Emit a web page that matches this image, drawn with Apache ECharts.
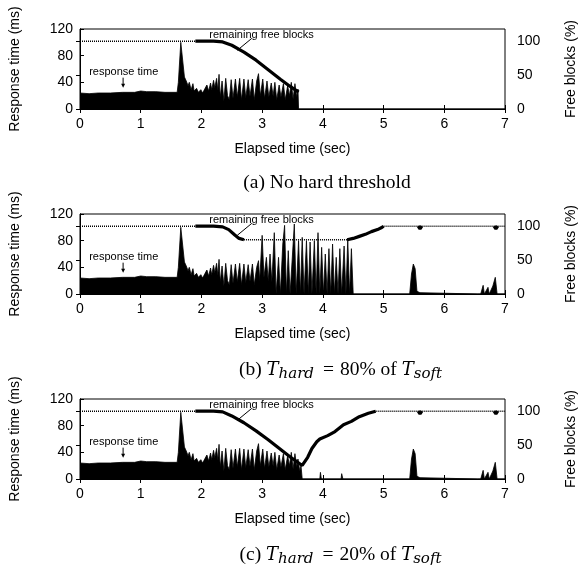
<!DOCTYPE html>
<html>
<head>
<meta charset="utf-8">
<script src="https://cdn.jsdelivr.net/npm/echarts@6/dist/echarts.min.js"></script>
<style>
html, body { margin: 0; padding: 0; background: #fff; }
#myChart { width: 586px; height: 565px; }
</style>
</head>
<body>
<div id="myChart"></div>
<script>
// 响应时间 (ms)，三个子图在 2.9 秒前相同
const rtBase = [
    [0, 24], [0.15, 23], [0.3, 24], [0.5, 24], [0.7, 25], [0.9, 25], [1.0, 27], [1.1, 26], [1.25, 26], [1.4, 25], [1.6, 25],
    [1.62, 40], [1.66, 100], [1.69, 100], [1.72, 48], [1.75, 42], [1.78, 35], [1.8, 40], [1.83, 29], [1.86, 38], [1.88, 27],
    [1.92, 31], [1.95, 25], [1.99, 29], [2.02, 24], [2.06, 31], [2.09, 36], [2.12, 27], [2.15, 39], [2.17, 29], [2.2, 43],
    [2.22, 32], [2.25, 46], [2.27, 28], [2.29, 52], [2.31, 18], [2.34, 42], [2.37, 12], [2.4, 46], [2.43, 20], [2.46, 14],
    [2.49, 44], [2.52, 16], [2.56, 45], [2.59, 18], [2.63, 46], [2.66, 14], [2.7, 45], [2.73, 17], [2.77, 44], [2.8, 19],
    [2.84, 45], [2.87, 14]
];
const rtTailA = [
    [2.91, 42], [2.94, 53], [2.97, 20], [3.01, 45], [3.04, 16], [3.08, 42], [3.11, 18], [3.15, 39], [3.18, 20], [3.21, 40],
    [3.24, 14], [3.28, 36], [3.31, 18], [3.35, 38], [3.38, 14], [3.42, 35], [3.45, 20], [3.48, 40], [3.51, 15], [3.54, 38],
    [3.57, 18], [3.59, 30], [3.6, 0], [7, 0]
];
const rtTailB = [
    [2.91, 40], [2.94, 50], [2.96, 20], [3.0, 88], [3.03, 25], [3.07, 55], [3.1, 20], [3.13, 60], [3.16, 18], [3.2, 92],
    [3.23, 0], [3.27, 55], [3.3, 0], [3.34, 75], [3.37, 103], [3.4, 0], [3.43, 65], [3.46, 0], [3.5, 60], [3.53, 105],
    [3.56, 0], [3.6, 80], [3.63, 0], [3.66, 85], [3.69, 0], [3.73, 80], [3.76, 0], [3.79, 78], [3.82, 0], [3.86, 80],
    [3.89, 0], [3.92, 92], [3.95, 0], [3.98, 70], [4.01, 0], [4.04, 60], [4.07, 0], [4.1, 68], [4.13, 0], [4.16, 75],
    [4.19, 0], [4.22, 55], [4.25, 0], [4.28, 68], [4.31, 0], [4.35, 72], [4.38, 0], [4.41, 82], [4.44, 0], [4.47, 68],
    [4.5, 0], [5.43, 0], [5.46, 30], [5.49, 45], [5.52, 38], [5.55, 4], [5.6, 2], [5.62, 0], [6.55, 0], [6.58, 3],
    [6.6, 0], [6.64, 13], [6.66, 0], [6.72, 10], [6.74, 0], [6.8, 12], [6.84, 25], [6.87, 0], [7, 0]
];
const rtTailC = [
    [2.91, 42], [2.94, 53], [2.97, 20], [3.01, 45], [3.04, 16], [3.08, 42], [3.11, 18], [3.15, 39], [3.18, 20], [3.21, 40],
    [3.24, 14], [3.28, 36], [3.31, 18], [3.35, 38], [3.38, 14], [3.42, 35], [3.45, 20], [3.48, 40], [3.51, 15], [3.54, 38],
    [3.57, 18], [3.59, 30], [3.62, 12], [3.64, 20], [3.66, 0], [3.95, 0], [3.96, 10], [3.975, 0], [4.3, 0], [4.31, 8],
    [4.33, 0], [5.43, 0], [5.46, 30], [5.49, 45], [5.52, 38], [5.55, 4], [5.6, 2], [5.62, 0], [6.55, 0], [6.58, 3],
    [6.6, 0], [6.64, 13], [6.66, 0], [6.72, 10], [6.74, 0], [6.8, 12], [6.84, 25], [6.87, 0], [7, 0]
];

// 剩余空闲块 (%)：平稳段(点线) 和 变化段(粗线)
const fbDotA = [[0, 100], [2.2, 100]];
const fbLineA = [[1.9, 100], [2.2, 100], [2.35, 99], [2.5, 94], [2.7, 84], [2.9, 72], [3.1, 58], [3.3, 44], [3.45, 34], [3.6, 25]];
const fbDotB = [[0, 100], [2.2, 100], [2.2, '-'], [2.7, 80], [4.4, 80], [4.4, '-'], [5.0, 100], [7, 100]];
const fbLineB = [
    [1.9, 100], [2.2, 100], [2.35, 99], [2.45, 95], [2.55, 87], [2.62, 82], [2.7, 80], [2.7, '-'],
    [4.4, 80], [4.5, 82], [4.6, 85], [4.7, 88], [4.8, 92], [4.9, 95], [4.97, 98], [5.0, 100], [5.0, '-'],
    [5.57, 100], [5.6, 96], [5.63, 100], [5.63, '-'], [6.82, 100], [6.85, 96], [6.88, 100]
];
const fbDotC = [[0, 100], [2.2, 100], [2.2, '-'], [4.87, 100], [7, 100]];
const fbLineC = [
    [1.9, 100], [2.2, 100], [2.35, 99], [2.5, 93], [2.7, 83], [2.9, 71], [3.1, 58], [3.3, 44], [3.5, 30], [3.66, 20],
    [3.75, 32], [3.82, 45], [3.9, 55], [3.95, 59], [4.08, 64], [4.2, 70], [4.34, 80], [4.47, 85], [4.6, 92], [4.75, 97],
    [4.87, 100], [4.87, '-'], [5.57, 100], [5.6, 96], [5.63, 100], [5.63, '-'], [6.82, 100], [6.85, 96], [6.88, 100]
];

const captions = [
    '{n|(a) No hard threshold}',
    '{n|(b) }{i|T}{s|hard}{e|=}{n|80% of }{i|T}{s|soft}',
    '{n|(c) }{i|T}{s|hard}{e|=}{n|20% of }{i|T}{s|soft}'
];
const captionX = [322, 337, 337];

const panels = [
    {rt: rtBase.concat(rtTailA), dot: fbDotA, line: fbLineA},
    {rt: rtBase.concat(rtTailB), dot: fbDotB, line: fbLineB},
    {rt: rtBase.concat(rtTailC), dot: fbDotC, line: fbLineC}
];

const sans = 'Liberation Sans';
const serif = 'Liberation Serif';
const mathFont = 'DejaVu Serif';
const myChart = echarts.init(document.getElementById('myChart'));

let grid = [], xAxis = [], yAxis = [], series = [], title = [];
panels.forEach((p, i) => {
    let top = 29 + 185 * i;
    grid.push({left: 75, width: 443, top: top, height: 80, show: true, borderColor: '#000', borderWidth: 1, backgroundColor: 'transparent'});
    xAxis.push({
        gridIndex: i, type: 'value', min: 0, max: 7, interval: 1,
        name: 'Elapsed time (sec)', nameLocation: 'middle', nameGap: 33,
        nameTextStyle: {fontFamily: sans, fontSize: 14, color: '#000'},
        axisLine: {lineStyle: {color: '#000'}},
        axisTick: {inside: true, length: 4, lineStyle: {color: '#000'}},
        axisLabel: {fontFamily: sans, fontSize: 14, color: '#000', margin: 8},
        splitLine: {show: false}
    });
    xAxis.push({
        gridIndex: i, type: 'value', min: 0, max: 7, interval: 1, position: 'top',
        axisLine: {lineStyle: {color: '#000'}},
        axisTick: {inside: true, length: 4, lineStyle: {color: '#000'}},
        axisLabel: {show: false}, splitLine: {show: false}
    });
    yAxis.push({
        gridIndex: i, type: 'value', min: 0, max: 120, interval: 40,
        name: 'Response time (ms)', nameLocation: 'middle', nameGap: 58, nameRotate: 90,
        nameTextStyle: {fontFamily: sans, fontSize: 14, color: '#000'},
        axisLine: {show: true, lineStyle: {color: '#000'}},
        axisTick: {show: true, inside: true, length: 4, lineStyle: {color: '#000'}},
        axisLabel: {fontFamily: sans, fontSize: 14, color: '#000', margin: 7},
        splitLine: {show: false}
    });
    yAxis.push({
        gridIndex: i, type: 'value', min: 0, max: 118, interval: 50, position: 'right',
        name: 'Free blocks (%)', nameLocation: 'middle', nameGap: 59, nameRotate: 90,
        nameTextStyle: {fontFamily: sans, fontSize: 14, color: '#000'},
        axisLine: {show: true, lineStyle: {color: '#000'}},
        axisTick: {show: true, inside: true, length: 4, lineStyle: {color: '#000'}},
        axisLabel: {fontFamily: sans, fontSize: 14, color: '#000', margin: 12, showMaxLabel: false},
        splitLine: {show: false}
    });
    series.push({
        type: 'line', xAxisIndex: 2 * i, yAxisIndex: 2 * i, data: p.rt,
        showSymbol: false, animation: false,
        lineStyle: {color: '#000', width: 0.8}, areaStyle: {color: '#000', opacity: 1}
    });
    series.push({
        type: 'line', xAxisIndex: 2 * i, yAxisIndex: 2 * i + 1, data: p.dot,
        showSymbol: false, animation: false,
        lineStyle: {color: '#000', width: 1.6, type: [1, 1]}
    });
    series.push({
        type: 'line', xAxisIndex: 2 * i, yAxisIndex: 2 * i + 1, data: p.line,
        showSymbol: false, animation: false,
        lineStyle: {color: '#000', width: 3.2}
    });
    title.push({
        text: captions[i], left: captionX[i], top: 168 + 185 * i, textAlign: 'center',
        textStyle: {
            fontFamily: serif, fontSize: 19.5, fontWeight: 'normal', color: '#000',
            rich: {
                n: {fontFamily: serif, fontSize: 19.5, color: '#000'},
                e: {fontFamily: serif, fontSize: 19.5, color: '#000', padding: [0, 6, 0, 6]},
                i: {fontFamily: mathFont, fontSize: 18, fontStyle: 'italic', color: '#000'},
                s: {fontFamily: mathFont, fontSize: 15, fontStyle: 'italic', color: '#000', padding: [9, 3, 0, 0]}
            }
        }
    });
});

myChart.setOption({animation: false, title, grid, xAxis, yAxis, series});

// 注释文字与箭头
let graphic = [];
panels.forEach((p, i) => {
    let px = v => myChart.convertToPixel({xAxisIndex: 2 * i, yAxisIndex: 2 * i}, v);
    let t1 = px([0.72, 56]);
    let a1 = px([0.71, 47]), a2 = px([0.71, 32]);
    let t2 = px([2.13, 111]);
    let l1 = px([2.83, 106]), l2 = px([2.59, 88]);
    graphic.push(
        {type: 'text', x: t1[0], y: t1[1], style: {text: 'response time', font: '11px "Liberation Sans"', fill: '#000', align: 'center', verticalAlign: 'middle'}},
        {type: 'line', shape: {x1: a1[0], y1: a1[1], x2: a2[0], y2: a2[1] - 3}, style: {stroke: '#000', lineWidth: 1}},
        {type: 'polygon', shape: {points: [[a2[0] - 2, a2[1] - 4], [a2[0] + 2, a2[1] - 4], [a2[0], a2[1]]]}, style: {fill: '#000'}},
        {type: 'text', x: t2[0], y: t2[1], style: {text: 'remaining free blocks', font: '11px "Liberation Sans"', fill: '#000', align: 'left', verticalAlign: 'middle'}},
        {type: 'line', shape: {x1: l1[0], y1: l1[1], x2: l2[0], y2: l2[1]}, style: {stroke: '#000', lineWidth: 1}}
    );
});
myChart.setOption({graphic});
</script>
</body>
</html>
